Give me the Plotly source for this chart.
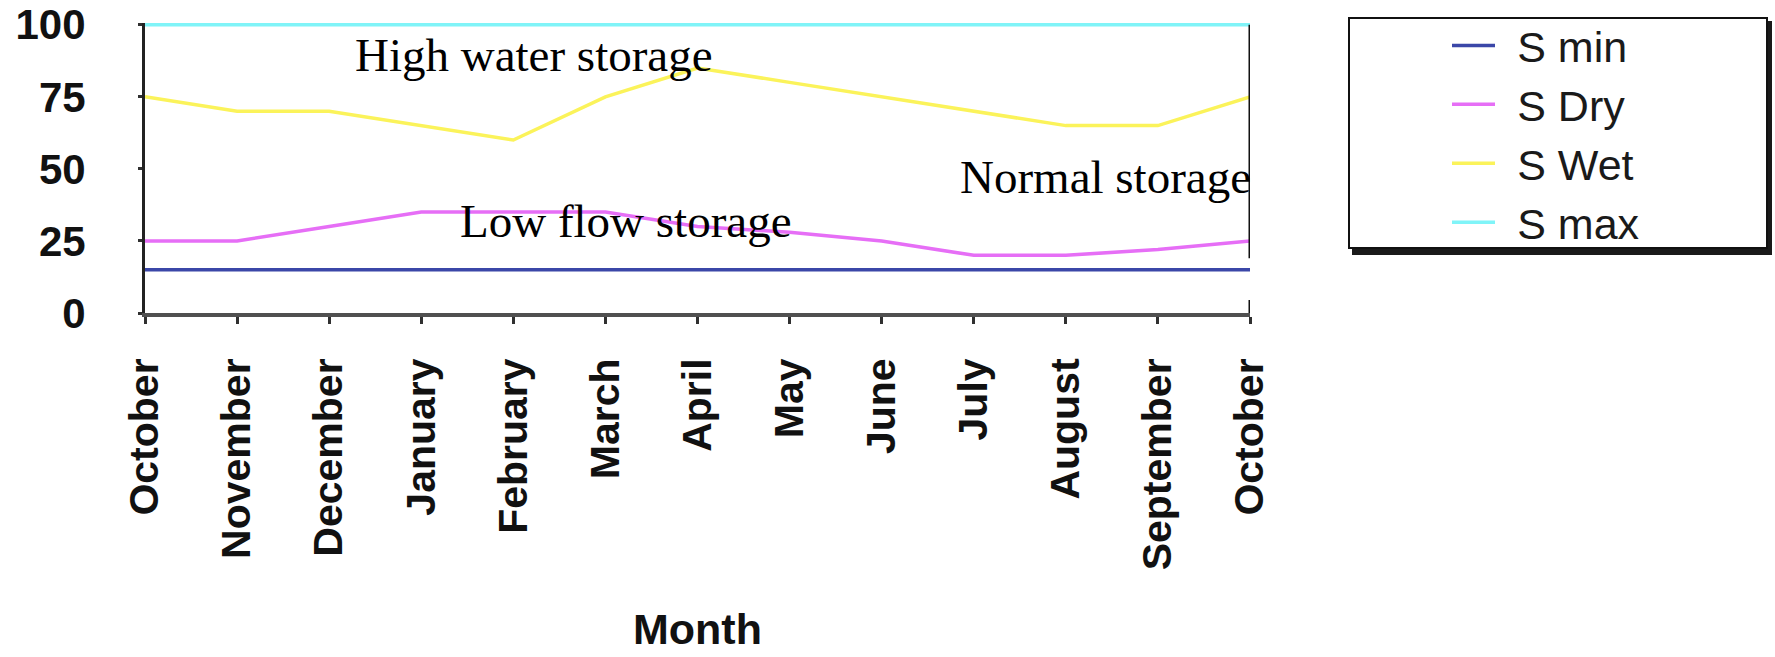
import plotly.graph_objects as go

# Months of the water year (October to October)
months = ["October", "November", "December", "January", "February", "March",
          "April", "May", "June", "July", "August", "September", "October"]

# Storage levels per month
s_min = [15, 15, 15, 15, 15, 15, 15, 15, 15, 15, 15, 15, 15]
s_dry = [25, 25, 30, 35, 35, 35, 30, 28, 25, 20, 20, 22, 25]
s_wet = [75, 70, 70, 65, 60, 75, 85, 80, 75, 70, 65, 65, 75]
s_max = [100, 100, 100, 100, 100, 100, 100, 100, 100, 100, 100, 100, 100]

series_names = ["S min", "S Dry", "S Wet", "S max"]
series_values = [s_min, s_dry, s_wet, s_max]
series_colors = ["#3B47A8", "#E66EF6", "#FBF35A", "#80F4F8"]

y_ticks = [0, 25, 50, 75, 100]

x_pos = list(range(len(months)))

# Plot-area geometry (pixels)
W, H = 1775, 657
L, R, T, B = 145, 525, 23, 344
PW, PH = W - L - R, H - T - B
Y_TOP = 100.6


def px_x(px):
    return (px - L) / PW


def px_y(py):
    return (H - B - py) / PH


# thin spaces widen the gap between legend swatch and label
GAP = "\u2009\u2009"

fig = go.Figure()
for name, vals, col in zip(series_names, series_values, series_colors):
    fig.add_trace(go.Scatter(x=x_pos, y=vals, mode="lines", name=GAP + name,
                             line=dict(color=col, width=3.5)))

sans = "Liberation Sans, Arial, sans-serif"
serif = "Liberation Serif, Times New Roman, serif"

fig.update_layout(
    width=W, height=H,
    margin=dict(l=L, r=R, t=T, b=B, pad=0, autoexpand=False),
    paper_bgcolor="white", plot_bgcolor="white",
    showlegend=True,
    legend=dict(
        x=px_x(1447), y=px_y(11), xanchor="left", yanchor="top",
        bgcolor="rgba(0,0,0,0)", borderwidth=0,
        font=dict(family=sans, size=43, color="#1a1a1a"),
        itemwidth=43, tracegroupgap=0,
    ),
    xaxis=dict(
        range=[0, len(months) - 1], tickmode="array", tickvals=x_pos, ticktext=months,
        tickangle=-90, showgrid=False, zeroline=False, automargin=False,
        showline=True, linecolor="#505050", linewidth=4,
        ticks="outside", ticklen=7, tickwidth=3, tickcolor="#303030",
        ticklabelstandoff=18,
        tickfont=dict(family=sans, size=41, color="#111111", weight="bold"),
    ),
    yaxis=dict(
        range=[0, Y_TOP], tickmode="array", tickvals=y_ticks,
        showgrid=False, zeroline=False, automargin=False,
        showline=True, linecolor="#222222", linewidth=3,
        ticks="outside", ticklen=4, tickwidth=3, tickcolor="#303030",
        ticklabelstandoff=44, ticklabeloverflow="allow",
        tickfont=dict(family=sans, size=42, color="#111111", weight="bold"),
    ),
)

# Right-hand frame segments
fig.add_shape(type="line", xref="x", yref="y", x0=12, x1=12, y0=100, y1=19,
              line=dict(color="#111111", width=3))
fig.add_shape(type="line", xref="x", yref="y", x0=12, x1=12, y0=4.5, y1=0,
              line=dict(color="#111111", width=3))

# Legend frame with a drop shadow
fig.add_shape(type="rect", xref="paper", yref="paper",
              x0=px_x(1352), x1=px_x(1772), y0=px_y(255), y1=px_y(21),
              line=dict(width=0), fillcolor="#1a1a1a")
fig.add_shape(type="rect", xref="paper", yref="paper",
              x0=px_x(1349), x1=px_x(1767), y0=px_y(248), y1=px_y(18),
              line=dict(color="#111111", width=2), fillcolor="white")

# Zone labels
zone_labels = ["High water storage", "Low flow storage", "Normal storage"]
zone_x = [px_x(353), px_x(458), px_x(958)]
zone_y = [px_y(55), px_y(221), px_y(177)]
for txt, zx, zy in zip(zone_labels, zone_x, zone_y):
    fig.add_annotation(text=txt, xref="paper", yref="paper", x=zx, y=zy,
                       xanchor="left", yanchor="middle", showarrow=False,
                       font=dict(family=serif, size=47, color="black"))

# Axis title
fig.add_annotation(text="<b>Month</b>", xref="paper", yref="paper",
                   x=0.5, y=px_y(629), xanchor="center", yanchor="middle",
                   showarrow=False,
                   font=dict(family=sans, size=43, color="#111111"))

fig.write_html("out.html")
